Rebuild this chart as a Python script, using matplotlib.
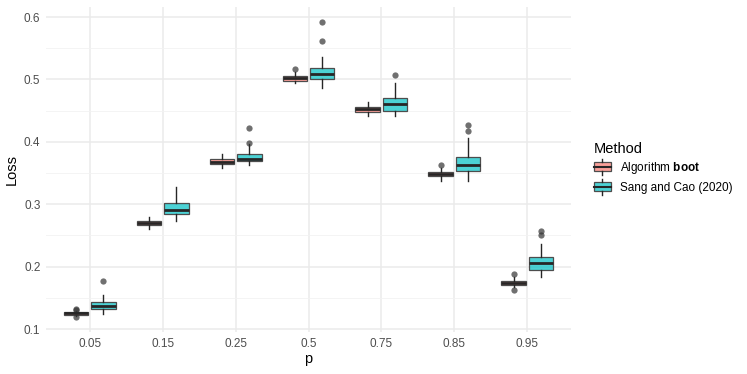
import matplotlib
matplotlib.use("Agg")
import matplotlib.pyplot as plt
from matplotlib.legend_handler import HandlerBase
from matplotlib.patches import Rectangle
from matplotlib.lines import Line2D
import numpy as np

plt.rcParams['font.family'] = ['Liberation Sans', 'DejaVu Sans']
plt.rcParams['mathtext.fontset'] = 'custom'
plt.rcParams['mathtext.bf'] = 'Liberation Sans:bold'
plt.rcParams['mathtext.rm'] = 'Liberation Sans'

p_labels = ["0.05", "0.15", "0.25", "0.5", "0.75", "0.85", "0.95"]
methods = [r"Algorithm $\mathbf{boot}$", "Sang and Cao (2020)"]

# Algorithm boot
boot_lo = [0.121, 0.261, 0.3575, 0.494, 0.441, 0.338, 0.1668]
boot_q1 = [0.123, 0.2667, 0.364, 0.4975, 0.4485, 0.345, 0.171]
boot_med = [0.125, 0.270, 0.368, 0.502, 0.4525, 0.349, 0.174]
boot_q3 = [0.127, 0.2735, 0.372, 0.5055, 0.4563, 0.352, 0.1774]
boot_hi = [0.129, 0.279, 0.381, 0.5125, 0.4638, 0.3575, 0.184]
boot_out = [[0.119, 0.1305, 0.132], [], [], [0.5167], [], [0.3623], [0.1625, 0.1886]]

# Sang and Cao (2020)
sang_lo = [0.124, 0.274, 0.363, 0.4857, 0.4418, 0.337, 0.1833]
sang_q1 = [0.132, 0.284, 0.369, 0.5006, 0.4498, 0.3537, 0.1946]
sang_med = [0.137, 0.291, 0.373, 0.509, 0.461, 0.3633, 0.2058]
sang_q3 = [0.144, 0.302, 0.380, 0.519, 0.470, 0.3756, 0.2149]
sang_hi = [0.154, 0.327, 0.397, 0.5354, 0.4938, 0.406, 0.2362]
sang_out = [[0.177], [], [0.399, 0.4226], [0.5615, 0.5925], [0.5075], [0.4168, 0.4264], [0.251, 0.2575]]

fills = ["#F8766D", "#00BFC4"]
edge = "#4d4d4d"
dark = "#262626"


def make_stats(lo, q1, med, q3, hi, out):
    return [dict(whislo=a, q1=b, med=c, q3=d, whishi=e, fliers=f)
            for a, b, c, d, e, f in zip(lo, q1, med, q3, hi, out)]


fig = plt.figure(figsize=(7.47, 3.74), dpi=100)
ax = fig.add_axes([46 / 747, 1 - 332 / 374, 525 / 747, 325 / 374])

x = np.arange(1, len(p_labels) + 1)
groups = [make_stats(boot_lo, boot_q1, boot_med, boot_q3, boot_hi, boot_out),
          make_stats(sang_lo, sang_q1, sang_med, sang_q3, sang_hi, sang_out)]
offsets = [-0.1875, 0.1875]

for stats, off, col in zip(groups, offsets, fills):
    ax.bxp(stats, positions=x + off, widths=0.3375, patch_artist=True,
           boxprops=dict(facecolor=matplotlib.colors.to_rgba(col, 0.7), edgecolor=edge, linewidth=0.9),
           medianprops=dict(color=dark, linewidth=2.0, solid_capstyle='butt'),
           whiskerprops=dict(color=dark, linewidth=1.0),
           capprops=dict(linewidth=0),
           flierprops=dict(marker='o', markersize=4.5, markerfacecolor='#333333',
                           markeredgecolor='none', alpha=0.7),
           manage_ticks=False, zorder=3)

allv = boot_lo + sang_lo + sang_hi + [v for o in boot_out + sang_out for v in o]
vmin, vmax = min(allv), max(allv)
pad = (vmax - vmin) * 0.05
ax.set_ylim(vmin - pad, vmax + pad)
ax.set_xlim(0.4, len(p_labels) + 0.6)

ax.set_xticks(x)
ax.set_xticklabels(p_labels)
ax.set_yticks([0.1, 0.2, 0.3, 0.4, 0.5, 0.6])
ax.set_yticks([0.15, 0.25, 0.35, 0.45, 0.55], minor=True)
ax.set_xticks([], minor=True)
ax.tick_params(axis='both', which='both', length=0, labelsize=8.5, labelcolor='#4d4d4d', pad=4)
ax.grid(True, which='major', color='#ebebeb', linewidth=1.1, zorder=0)
ax.grid(True, which='minor', axis='y', color='#f2f2f2', linewidth=0.6, zorder=0)
ax.set_axisbelow(True)
for s in ax.spines.values():
    s.set_visible(False)
ax.set_xlabel("p", fontsize=10.5, labelpad=2)
ax.set_ylabel("Loss", fontsize=10.5, labelpad=4)


class HandlerBox(HandlerBase):
    def __init__(self, color):
        super().__init__()
        self.color = color

    def create_artists(self, legend, orig_handle, xdescent, ydescent, width, height, fontsize, trans):
        cx = width / 2 - xdescent
        h = height * 1.1
        y0 = -ydescent + (height - h) / 2
        bh = h * 0.55
        by = y0 + (h - bh) / 2
        rect = Rectangle((-xdescent, by), width, bh, facecolor=matplotlib.colors.to_rgba(self.color, 0.7),
                         edgecolor=edge, linewidth=0.9, transform=trans)
        med = Line2D([-xdescent, -xdescent + width], [by + bh / 2] * 2, color=dark, linewidth=1.5, transform=trans)
        w1 = Line2D([cx, cx], [y0, by], color=dark, linewidth=1.0, transform=trans)
        w2 = Line2D([cx, cx], [by + bh, y0 + h], color=dark, linewidth=1.0, transform=trans)
        return [rect, med, w1, w2]


handles = [Rectangle((0, 0), 1, 1), Rectangle((0, 1), 1, 1)]
leg = fig.legend(handles, methods, loc='center left', bbox_to_anchor=(583 / 747, 1 - 168 / 374),
                 frameon=False, title="Method", fontsize=8.5, title_fontsize=10.5,
                 handler_map={handles[0]: HandlerBox(fills[0]), handles[1]: HandlerBox(fills[1])},
                 handlelength=1.45, handleheight=1.55, labelspacing=0.3, handletextpad=0.75)
leg._legend_box.align = "left"

fig.savefig("out.png", dpi=100)
